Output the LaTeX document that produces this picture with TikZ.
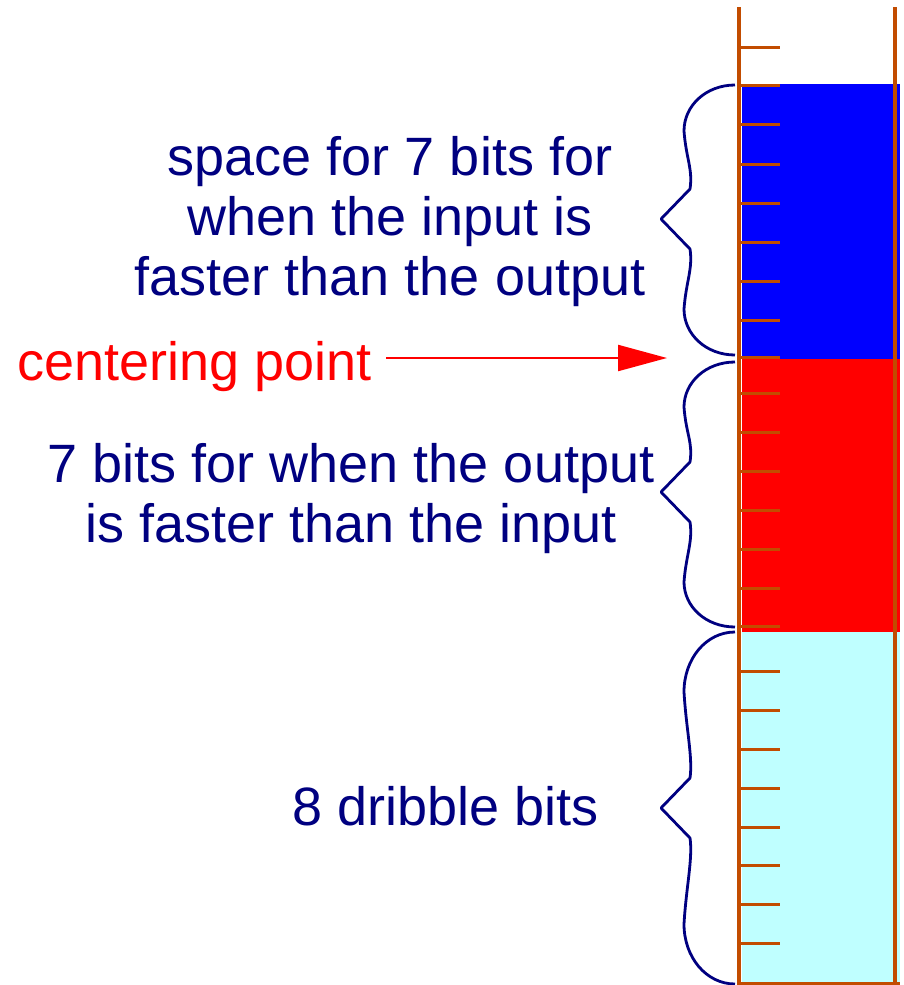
\documentclass[tikz,border=0pt]{standalone}
\usepackage{fontspec}
\setmainfont{Liberation Sans}
\usepackage{tikz}
\usetikzlibrary{arrows.meta, positioning, calc}
\definecolor{navytext}{rgb}{0, 0, 0.5}
\definecolor{rust}{rgb}{0.76, 0.30, 0}
\definecolor{palecyan}{rgb}{0.75, 1, 1}

\tikzset{
  wall/.style={rust, line width=3.2pt},
  bittick/.style={rust, line width=3pt},
  bracestyle/.style={navytext, line width=2.8pt, line join=round},
  bitlabel/.style={navytext, inner sep=0pt, align=center, anchor=base,
    font=\fontsize{54}{60}\selectfont}
}

% curly brace: top y, bottom y, tip y
\newcommand{\bitbrace}[3]{%
  \pgfmathsetmacro{\bracearc}{0.17*(#2-#1)}
  \draw[bracestyle] (735,#1) .. controls (706,#1) and (684,{#1+0.45*\bracearc}) .. (684,{#1+\bracearc})
    .. controls (686,{#1+1.6*\bracearc}) and (693,{#3-50}) .. (690,{#3-30}) -- (661,#3)
    -- (690,{#3+30}) .. controls (693,{#3+50}) and (686,{#2-1.6*\bracearc}) .. (684,{#2-\bracearc})
    .. controls (684,{#2-0.45*\bracearc}) and (706,#2) .. (735,#2);}

\begin{document}
\begin{tikzpicture}[x=1pt, y=-1pt, >=Stealth]
    \useasboundingbox (0,0) rectangle (903,985);
    % Buffer regions
    \fill[blue] (742,84) rectangle (900,359);
    \fill[red] (742,359) rectangle (900,632);
    \fill[palecyan] (742,632) rectangle (900,984);
    % Walls
    \draw[wall] (739,7) -- (739,985);
    \draw[wall] (895,7) -- (895,985);
    \draw[wall] (739,984) -- (900,984);
    \foreach \y in {47,85,124,164,203,242,281,320,357,393,432,471,510,549,588,626,671,710,749,788,827,865,904,943} {
        \draw[bittick] (739,\y) -- (780,\y);
    }
    % Braces
    \bitbrace{85}{355}{219}
    \bitbrace{362}{627}{492}
    \bitbrace{632}{984}{808}
    % Labels (base = last line)
    \node[bitlabel] (fasterin) at (390,295) {space for 7 bits for\\when the input is\\faster than the output};
    \node[bitlabel] (fasterout) at (351,542) {7 bits for when the output\\is faster than the input};
    \node[bitlabel] (dribble) at (446,825) {8 dribble bits};
    % Centering point
    \node[bitlabel, red] (centering) at (195,380) {centering point};
    \coordinate (cpoint) at (667,358);
    \draw[red, line width=2.2pt, -{Triangle[length=49pt, width=26pt]}, shorten <=14pt]
        (centering.east |- cpoint) -- (cpoint);
\end{tikzpicture}
\end{document}
